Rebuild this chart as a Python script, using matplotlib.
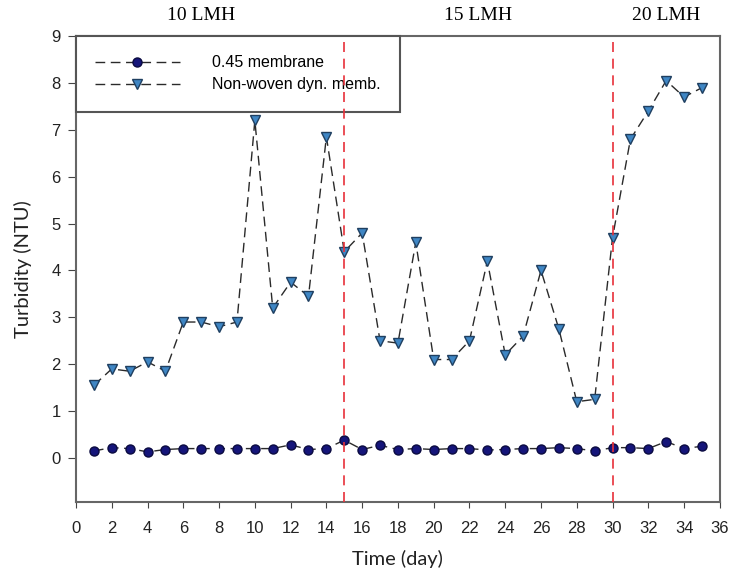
import matplotlib
matplotlib.use('Agg')
import matplotlib.pyplot as plt

days = list(range(1, 36))
membrane = [0.15, 0.22, 0.2, 0.13, 0.18, 0.2, 0.2, 0.2, 0.2, 0.2,
            0.2, 0.28, 0.18, 0.2, 0.38, 0.18, 0.27, 0.18, 0.2, 0.18,
            0.2, 0.2, 0.17, 0.18, 0.2, 0.2, 0.22, 0.2, 0.15, 0.22,
            0.22, 0.2, 0.35, 0.2, 0.25]
nonwoven = [1.55, 1.9, 1.85, 2.05, 1.85, 2.9, 2.9, 2.8, 2.9, 7.2,
            3.2, 3.75, 3.45, 6.85, 4.4, 4.8, 2.5, 2.45, 4.6, 2.1,
            2.1, 2.5, 4.2, 2.2, 2.6, 4.0, 2.75, 1.2, 1.25, 4.7,
            6.8, 7.4, 8.05, 7.7, 7.9]
flux_changes = [15, 30]
flux_labels = ['10 LMH', '15 LMH', '20 LMH']
flux_label_x = [7.0, 22.5, 33.0]
xticks = list(range(0, 37, 2))
xticklabels = [str(t) for t in xticks]
xticklabels[13] = '26'

plt.rcParams['font.family'] = ['Liberation Sans', 'DejaVu Sans']

fig = plt.figure(figsize=(7.3, 5.71), dpi=100)
ax = fig.add_axes([0.1041, 0.1208, 0.882, 0.816])

ax.plot(days, membrane, color='#2a2a2a', linestyle=(0, (7, 4)), linewidth=1.0,
        marker='o', markersize=6.5, markerfacecolor='#15157a', markeredgecolor='#0a0a40',
        label='0.45 membrane')
ax.plot(days, nonwoven, color='#2a2a2a', linestyle=(0, (7, 4)), linewidth=1.0,
        marker='v', markersize=7.5, markerfacecolor='#3f86c4', markeredgecolor='#1f3f60',
        label='Non-woven dyn. memb.')

for xc in flux_changes:
    ax.axvline(xc, color='#e8303a', linestyle=(0, (6, 4)), linewidth=1.2, zorder=6)

for lab, xl in zip(flux_labels, flux_label_x):
    ax.text(xl, 9.43, lab, ha='center', va='center', fontsize=14,
            family=['Liberation Serif', 'DejaVu Serif'])

ax.set_xlim(0, 36)
ax.set_ylim(-0.94, 9)
ax.set_xticks(xticks)
ax.set_xticklabels(xticklabels)
ax.set_yticks(range(0, 10))
ax.tick_params(direction='out', labelsize=12, color='#444444', labelcolor='#222222')
ax.tick_params(axis='x', length=4, pad=10)
ax.tick_params(axis='y', length=6, pad=5)
for s in ax.spines.values():
    s.set_color('#666666')
    s.set_linewidth(1.5)

ax.set_xlabel('Time (day)', fontsize=14.5, labelpad=10, color='#222222',
              family=['Lato', 'Liberation Sans', 'DejaVu Sans'])
ax.set_ylabel('Turbidity (NTU)', fontsize=14.5, labelpad=14, color='#222222',
              family=['Lato', 'Liberation Sans', 'DejaVu Sans'])

leg = ax.legend(loc='upper left', bbox_to_anchor=(0.0, 1.0), borderaxespad=0,
                handlelength=5.3, fancybox=False, edgecolor='#555555', framealpha=1,
                borderpad=1.2, labelspacing=0.45, handletextpad=2.0,
                prop={'family': ['Liberation Sans', 'DejaVu Sans'], 'size': 11.5})
leg.get_frame().set_linewidth(1.5)

fig.savefig('out.png', dpi=100)
